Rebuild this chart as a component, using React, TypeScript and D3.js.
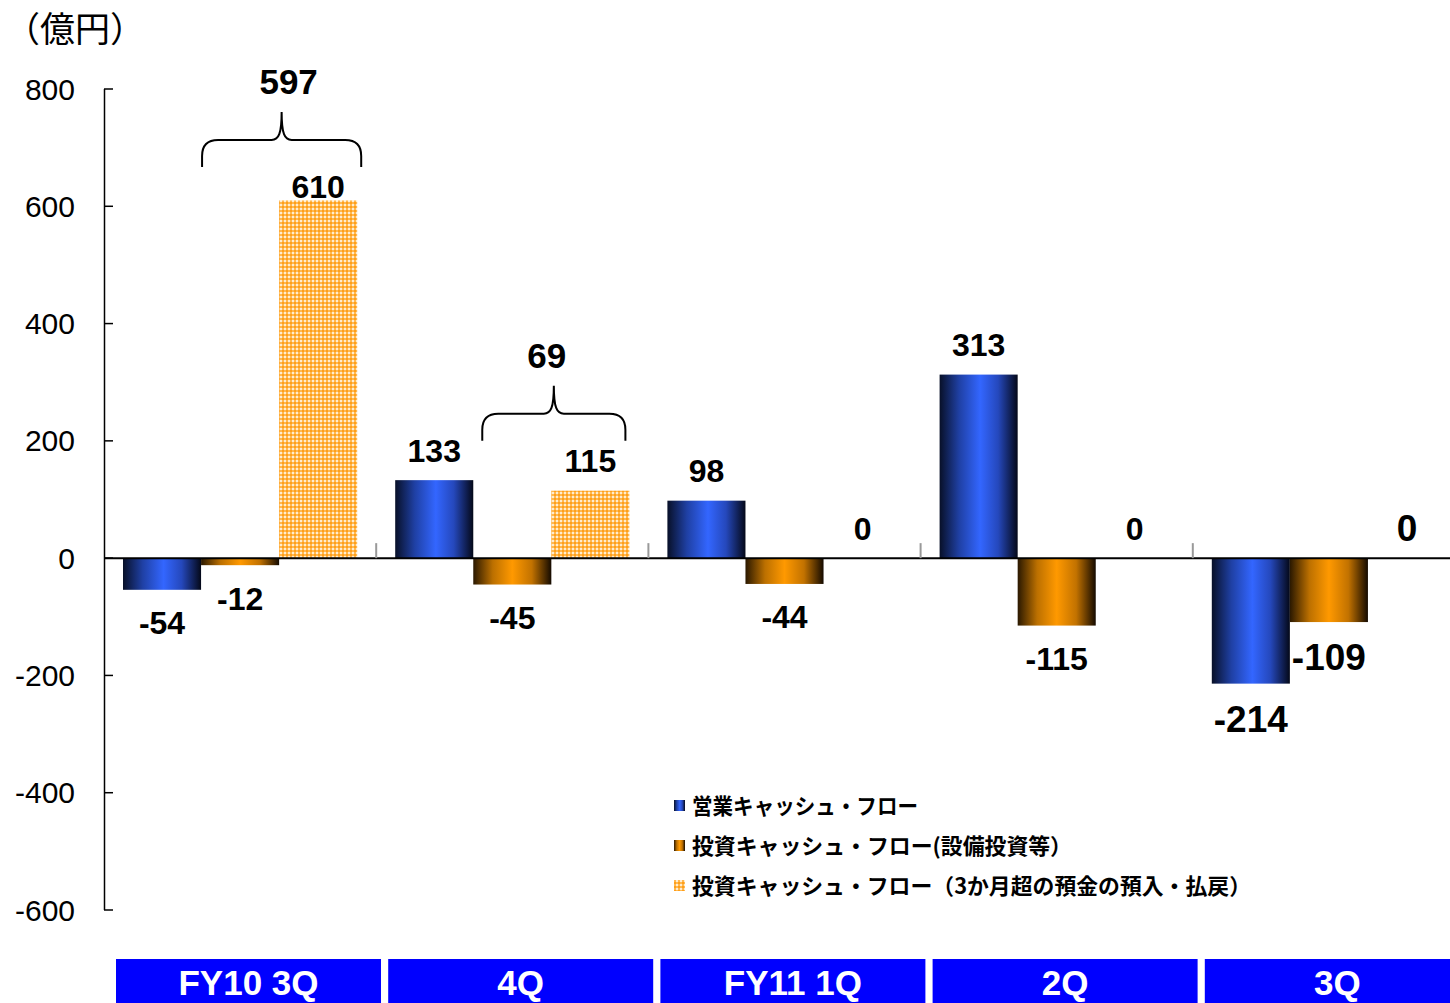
import React from 'react';
import * as d3 from 'd3';

// ---------- data ----------
const categories = ['FY10 3Q', '4Q', 'FY11 1Q', '2Q', '3Q'];
const operatingCF = [-54, 133, 98, 313, -214];
const capexCF = [-12, -45, -44, -115, -109];
const depositCF = [610, 115, 0, 0, 0];
const seriesNames = [
  '営業キャッシュ・フロー',
  '投資キャッシュ・フロー(設備投資等）',
  '投資キャッシュ・フロー（3か月超の預金の預入・払戻）',
];
const yTicks = [-600, -400, -200, 0, 200, 400, 600, 800];
const braceTotals = [
  { category: 'FY10 3Q', total: 597 },
  { category: '4Q', total: 69 },
];
const unitLabel = '（億円）';

// ---------- styling / layout config ----------
const W = 1450;
const H = 1003;
const labelSizes = [32, 32, 32, 32, 37];
const braceInsets = [[1, 4], [9, -4]];
const braceLabelShift = [7, -7];
const legendLengths = [226, 380, 559];
const latin = '"Liberation Sans", Arial, Helvetica, sans-serif';
const cjk = '"Noto Sans CJK JP", "Noto Sans", sans-serif';

export default function App() {
  const y = d3.scaleLinear().domain([-600, 800]).range([910, 89]);
  const x = d3.scaleBand<string>().domain(categories).range([104, 104 + 272.2 * 5]).padding(0);
  const sx = d3.scaleBand<number>().domain([0, 1, 2]).range([19, 272.2 - 19]).padding(0);
  const boxW = 265;

  const series = [operatingCF, capexCF, depositCF];
  const fills = ['url(#gBlue)', 'url(#gOrange)', 'url(#pCheck)'];
  const y0 = y(0);

  const labelCenter = (ci: number, si: number) => {
    const v = series[si][ci];
    if (v < 0) return y(v) + (ci === 4 ? 35 : 33);
    const lift = ci === 0 && si === 2 ? 13.5 : 30;
    return y(v) - lift;
  };

  const bars: JSX.Element[] = [];
  const labels: JSX.Element[] = [];
  categories.forEach((c, ci) => {
    series.forEach((s, si) => {
      const v = s[ci];
      const bx = (x(c) as number) + (sx(si) as number);
      const bw = sx.bandwidth();
      const top = Math.min(y(v), y0);
      const h = Math.abs(y(v) - y0);
      if (h > 0) {
        bars.push(<rect key={`b${ci}-${si}`} x={bx} y={top} width={bw} height={h} fill={fills[si]} />);
      }
      const fs = labelSizes[ci];
      const cy = labelCenter(ci, si);
      labels.push(
        <text key={`l${ci}-${si}`} x={bx + bw / 2} y={cy + fs * 0.36} textAnchor="middle"
          fontFamily={latin} fontWeight="bold" fontSize={fs} fill="#000">{v}</text>
      );
    });
  });

  const braces = braceTotals.map((b, i) => {
    const ci = categories.indexOf(b.category);
    const x0 = (x(b.category) as number) + (sx(1) as number) + braceInsets[i][0];
    const x1 = (x(b.category) as number) + (sx(2) as number) + sx.bandwidth() + braceInsets[i][1];
    const labTop = Math.min(labelCenter(ci, 1), labelCenter(ci, 2));
    const yEnd = labTop - 20;
    const yTip = yEnd - 55;
    const yMid = yTip + 28;
    const xm = (x0 + x1) / 2;
    const r = 16;
    const d = `M${x0},${yEnd} L${x0},${yMid + r} Q${x0},${yMid} ${x0 + r},${yMid} L${xm - 10},${yMid} C${xm - 3},${yMid} ${xm},${yMid - 6} ${xm},${yTip}` +
      ` C${xm},${yMid - 6} ${xm + 3},${yMid} ${xm + 10},${yMid} L${x1 - r},${yMid} Q${x1},${yMid} ${x1},${yMid + r} L${x1},${yEnd}`;
    return (
      <g key={`br${i}`}>
        <path d={d} fill="none" stroke="#000" strokeWidth={2} />
        <text x={xm + braceLabelShift[i]} y={yTip - 30 + 12} textAnchor="middle" fontFamily={latin} fontWeight="bold" fontSize={35}>{b.total}</text>
      </g>
    );
  });

  const legendY = [806, 846, 886];

  return (
    <div style={{ position: 'absolute', left: 0, top: 0, width: W, height: H, background: '#fff', overflow: 'hidden' }}>
      <svg width={W} height={H} viewBox={`0 0 ${W} ${H}`} style={{ display: 'block' }}>
        <defs>
          <linearGradient id="gBlue" x1="0" x2="1" y1="0" y2="0">
            <stop offset="0" stopColor="#081028" />
            <stop offset="0.25" stopColor="#1f40a4" />
            <stop offset="0.52" stopColor="#3366ff" />
            <stop offset="0.75" stopColor="#2548bc" />
            <stop offset="1" stopColor="#040818" />
          </linearGradient>
          <linearGradient id="gOrange" x1="0" x2="1" y1="0" y2="0">
            <stop offset="0" stopColor="#2a1800" />
            <stop offset="0.25" stopColor="#bc7000" />
            <stop offset="0.5" stopColor="#ff9900" />
            <stop offset="0.75" stopColor="#c27200" />
            <stop offset="1" stopColor="#140a00" />
          </linearGradient>
          <pattern id="pCheck" width="4" height="4" patternUnits="userSpaceOnUse">
            <rect width="4" height="4" fill="#ff9f1a" />
            <rect x="0" y="0" width="2" height="2" fill="#ffeccf" />
            <rect x="2" y="0" width="2" height="2" fill="#ffb850" />
            <rect x="0" y="2" width="2" height="2" fill="#ffb850" />
          </pattern>
        </defs>

        {/* unit */}
        <text x={5} y={42} fontFamily={cjk} fontSize={35} fill="#000">{unitLabel}</text>

        {/* y axis */}
        <line x1={104.5} x2={104.5} y1={y(800)} y2={y(-600)} stroke="#000" strokeWidth={1.5} />
        {yTicks.map((t) => (
          <g key={`t${t}`}>
            <line x1={104} x2={113} y1={y(t)} y2={y(t)} stroke="#000" strokeWidth={1.5} />
            <text x={75} y={y(t) + 10.5} textAnchor="end" fontFamily={latin} fontSize={30} fill="#000">{t}</text>
          </g>
        ))}

        {/* bars */}
        {bars}

        {/* zero line & category separators */}
        <line x1={104} x2={W} y1={y0} y2={y0} stroke="#000" strokeWidth={2} />
        {categories.slice(1).map((c) => (
          <line key={`s${c}`} x1={x(c) as number} x2={x(c) as number} y1={y0 - 15} y2={y0} stroke="#999" strokeWidth={2} />
        ))}

        {labels}
        {braces}

        {/* legend */}
        {seriesNames.map((n, i) => (
          <g key={`lg${i}`}>
            <rect x={674} y={legendY[i] - 6} width={11} height={11} fill={fills[i]} />
            <text x={692} y={legendY[i] + 8} fontFamily={cjk} fontWeight="bold" fontSize={22} fill="#000"
              textLength={legendLengths[i]} lengthAdjust="spacingAndGlyphs">{n}</text>
          </g>
        ))}

        {/* category boxes */}
        {categories.map((c) => (
          <g key={`cb${c}`}>
            <rect x={(x(c) as number) + 12} y={959} width={boxW} height={50} fill="#0000ff" />
            <text x={(x(c) as number) + 12 + boxW / 2} y={995} textAnchor="middle" fontFamily={latin}
              fontWeight="bold" fontSize={35} fill="#fff">{c}</text>
          </g>
        ))}
      </svg>
    </div>
  );
}
